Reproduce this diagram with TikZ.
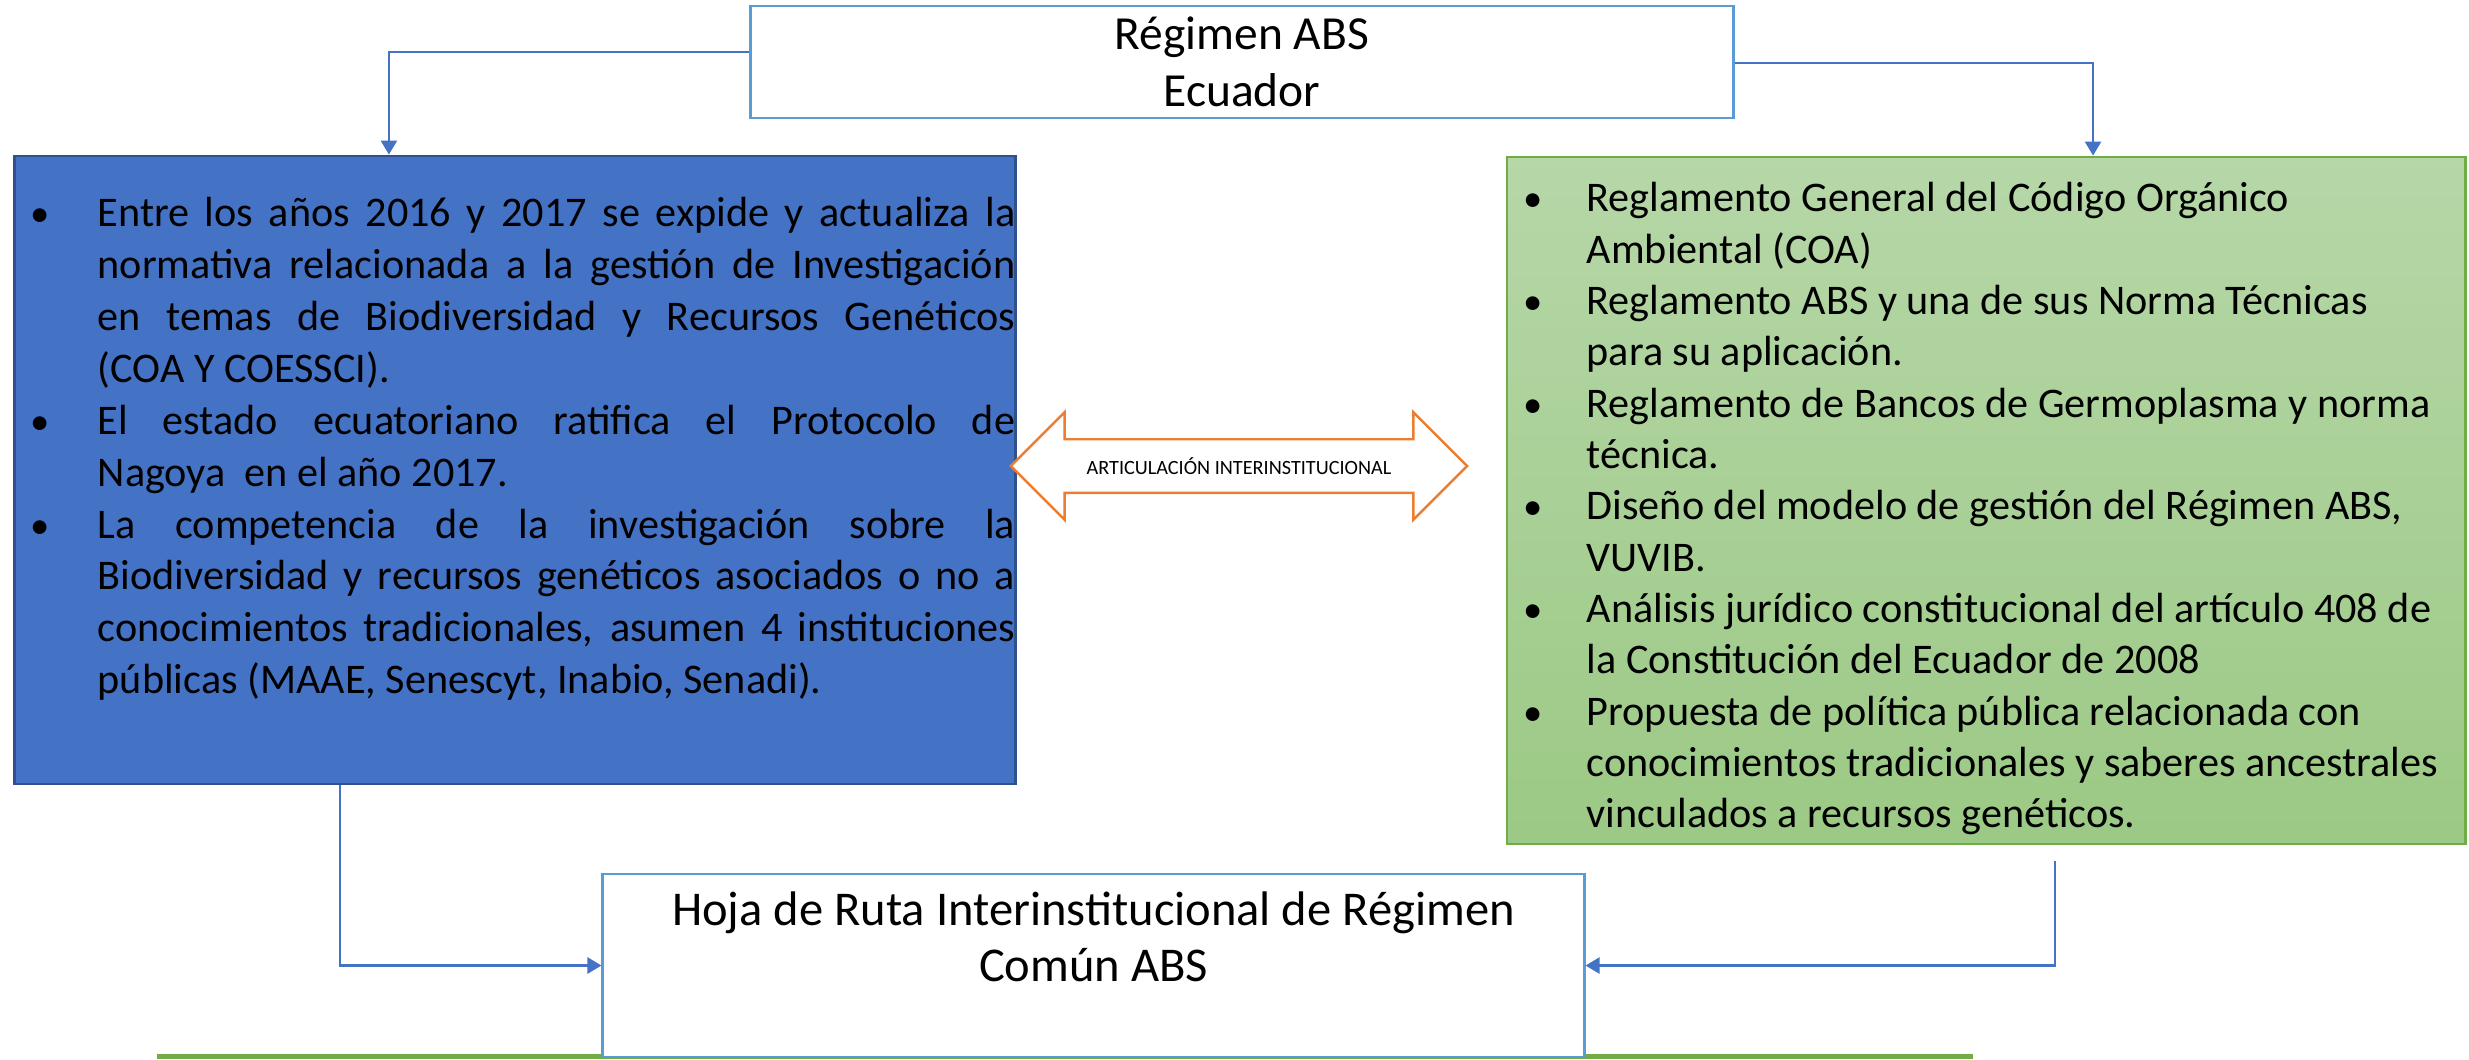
\documentclass[tikz,border=0pt]{standalone}
\usepackage{fontspec}
\setmainfont{Carlito}
\usepackage{enumitem}
\usetikzlibrary{arrows.meta, positioning, shapes.arrows}

\definecolor{azulborde}{HTML}{5B9BD5}
\definecolor{azulfondo}{HTML}{4472C4}
\definecolor{azuloscuro}{HTML}{2F528F}
\definecolor{verdeborde}{HTML}{70AD47}
\definecolor{verdeclaro}{HTML}{B6D7A8}
\definecolor{verdefondo}{HTML}{9CC985}
\definecolor{naranja}{HTML}{ED7D31}

\newlist{puntos}{itemize}{1}
\setlist[puntos]{label=\makebox[0pt]{\fontsize{11pt}{11pt}\selectfont\textbullet}, nosep,
    labelwidth=0pt, align=right}

\begin{document}
\begin{tikzpicture}[x=0.01cm, y=-0.01cm, font=\fontsize{12pt}{14.6pt}\selectfont,
    caja/.style={draw=azulborde, line width=0.7pt, fill=white, inner sep=0pt},
    conector/.style={draw=azulfondo, line width=0.7pt, -{Triangle[length=0.14cm, width=0.16cm]}}]
    \useasboundingbox (0,0) rectangle (2469,1059);

    % Base line
    \coordinate (lineaini) at (157,1056);
    \coordinate (lineafin) at (1973,1056);
    \draw[verdeborde, line width=0.05cm] (lineaini) -- (lineafin);

    % Nodes
    \node[caja, minimum width=9.82cm, minimum height=1.12cm, align=center,
        font=\fontsize{13.5pt}{16.2pt}\selectfont] (regimen) at (1242,62) {Régimen ABS\\Ecuador};
    \node[draw=azuloscuro, fill=azulfondo, line width=0.7pt, inner sep=0pt] (marco) at (515,470)
        {\parbox[c][6.28cm][t]{10.14cm}{\fontsize{12pt}{14.75pt}\selectfont
        \begin{puntos}[leftmargin=0.83cm, labelsep=0.58cm, rightmargin=0.14cm]
        \item \rule{0pt}{0.71cm}Entre los años 2016 y 2017 se expide y actualiza la\linebreak
        normativa relacionada a la gestión de Investigación\linebreak
        en temas de Biodiversidad y Recursos Genéticos\linebreak
        (COA Y COESSCI).
        \item El estado ecuatoriano ratifica el Protocolo de\linebreak
        Nagoya\ \ en el año 2017.
        \item La competencia de la investigación sobre la\linebreak
        Biodiversidad y recursos genéticos asociados o no a\linebreak
        conocimientos tradicionales, asumen 4 instituciones\linebreak
        públicas (MAAE, Senescyt, Inabio, Senadi).
        \end{puntos}}};
    \node[draw=verdeborde, top color=verdeclaro, bottom color=verdefondo, line width=0.7pt, inner sep=0pt]
        (acciones) at (1986,500.5)
        {\parbox[c][6.87cm][t]{9.58cm}{\raggedright
        \begin{puntos}[leftmargin=0.8cm, labelsep=0.54cm]
        \item \rule{0pt}{0.55cm}Reglamento General del Código Orgánico\\ Ambiental (COA)
        \item Reglamento ABS y una de sus Norma Técnicas\\ para su aplicación.
        \item Reglamento de Bancos de Germoplasma y norma\\ técnica.
        \item Diseño del modelo de gestión del Régimen ABS,\\ VUVIB.
        \item Análisis jurídico constitucional del artículo 408 de\\ la Constitución del Ecuador de 2008
        \item Propuesta de política pública relacionada con\\ conocimientos tradicionales y saberes ancestrales\\ vinculados a recursos genéticos.
        \end{puntos}}};
    \node[double arrow, draw=naranja, fill=white, line width=0.7pt, minimum height=4.56cm, inner sep=0.17cm,
        double arrow head extend=0.27cm, font=\fontsize{5.75pt}{7pt}\selectfont]
        (articulacion) at (1239,466) {ARTICULACIÓN INTERINSTITUCIONAL};
    \node[caja] (hoja) at (1093.5,965.5)
        {\parbox[c][1.83cm][t]{9.81cm}{\centering\fontsize{13.8pt}{16.2pt}\selectfont
        \rule{0pt}{0.51cm}Hoja de Ruta Interinstitucional de Régimen\\Común ABS}};

    % Connections
    \draw[conector] ([yshift=0.1cm]regimen.west) -| ([xshift=-1.26cm]marco.north);
    \draw[conector] ([yshift=-0.01cm]regimen.east) -| ([xshift=1.07cm]acciones.north);
    \draw[conector] ([xshift=-1.75cm]marco.south) |- (hoja.west);
    \draw[conector] ([xshift=0.69cm, yshift=-0.16cm]acciones.south) |- (hoja.east);
\end{tikzpicture}
\end{document}
